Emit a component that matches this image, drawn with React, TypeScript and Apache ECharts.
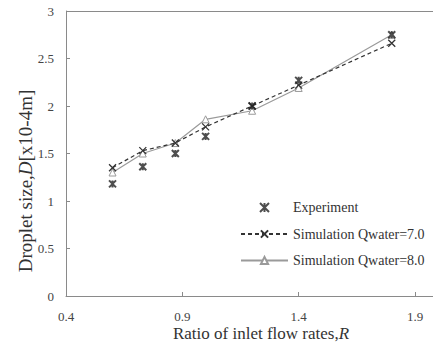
import React, { useEffect, useRef } from "react";
import * as echarts from "echarts";

const ratios = [0.6, 0.73, 0.87, 1.0, 1.2, 1.4, 1.8];
const experiment = [1.18, 1.36, 1.5, 1.68, 2.0, 2.27, 2.75];
const simQ7 = [1.35, 1.53, 1.61, 1.78, 2.0, 2.22, 2.66];
const simQ8 = [1.3, 1.5, 1.61, 1.86, 1.95, 2.19, 2.75];
const seriesNames = ["Experiment", "Simulation Qwater=7.0", "Simulation Qwater=8.0"];
const xTitle = "Ratio of inlet flow rates,";
const xTitleVar = "R";
const yTitle = "Droplet size,";
const yTitleVar = "D";
const yTitleUnit = "[x10-4m]";

const FONT = "'Liberation Serif', 'Times New Roman', serif";
const pair = (ys: number[]) => ratios.map((r, i) => [r, ys[i]]);

export default function App() {
  const ref = useRef<HTMLDivElement>(null);
  useEffect(() => {
    if (!ref.current) return;
    const chart = echarts.init(ref.current, null, { renderer: "svg" });
    chart.setOption({
      animation: false,
      backgroundColor: "#ffffff",
      grid: { left: 66, right: 18, top: 11, bottom: 53 },
      xAxis: {
        type: "value",
        min: 0.4,
        max: 1.9,
        interval: 0.5,
        splitLine: { show: false },
        axisLine: { lineStyle: { color: "#8a8a8a", width: 1 } },
        axisTick: { inside: true, length: 4, lineStyle: { color: "#8a8a8a" } },
        axisLabel: { color: "#444", fontFamily: FONT, fontSize: 13, margin: 14 },
      },
      yAxis: {
        type: "value",
        min: 0,
        max: 3,
        interval: 0.5,
        splitLine: { show: false },
        axisLine: { show: true, lineStyle: { color: "#8a8a8a", width: 1 } },
        axisTick: { show: true, inside: true, length: 4, lineStyle: { color: "#8a8a8a" } },
        axisLabel: { color: "#444", fontFamily: FONT, fontSize: 13, margin: 12 },
      },
      legend: {
        orient: "vertical",
        left: 240,
        top: 200.5,
        padding: 0,
        itemWidth: 47,
        itemHeight: 9,
        itemGap: 12.5,
        data: seriesNames,
        textStyle: { fontFamily: FONT, fontSize: 14, color: "#333" },
      },
      graphic: [
        { type: "line", shape: { x1: 66, y1: 11.5, x2: 433, y2: 11.5 }, style: { stroke: "#8a8a8a", lineWidth: 1 } },
        { type: "line", shape: { x1: 415, y1: 296.5, x2: 433, y2: 296.5 }, style: { stroke: "#8a8a8a", lineWidth: 1 } },
        {
          type: "text",
          x: 261,
          y: 333,
          style: {
            text: xTitle + "{i|" + xTitleVar + "}",
            font: "17px " + FONT,
            fill: "#333",
            align: "center",
            verticalAlign: "middle",
            rich: { i: { fontStyle: "italic", fontSize: 17, fontFamily: FONT, fill: "#333" } },
          },
        },
        {
          type: "text",
          x: 25,
          y: 181,
          rotation: Math.PI / 2,
          style: {
            text: yTitle + "{i|" + yTitleVar + "}" + yTitleUnit,
            font: "19px " + FONT,
            fill: "#333",
            align: "center",
            verticalAlign: "middle",
            rich: { i: { fontStyle: "italic", fontSize: 19, fontFamily: FONT, fill: "#333" } },
          },
        },
      ],
      series: [
        {
          name: seriesNames[0],
          type: "scatter",
          data: pair(experiment),
          symbol: "path://M0,0L10,10M10,0L0,10M5,0L5,10",
          symbolSize: 7,
          itemStyle: { color: "#222", borderColor: "#222", borderWidth: 2 },
          z: 4,
        },
        {
          name: seriesNames[1],
          type: "line",
          data: pair(simQ7),
          symbol: "path://M0,0L10,10M10,0L0,10",
          symbolSize: 7,
          showSymbol: true,
          lineStyle: { color: "#333", width: 1.2, type: [4, 3] },
          itemStyle: { color: "#333", borderColor: "#333", borderWidth: 1.3 },
          z: 3,
        },
        {
          name: seriesNames[2],
          type: "line",
          data: pair(simQ8),
          symbol: "triangle",
          symbolSize: 7,
          showSymbol: true,
          lineStyle: { color: "#9a9a9a", width: 1.2 },
          itemStyle: { color: "#ffffff", borderColor: "#9a9a9a", borderWidth: 1 },
          z: 2,
        },
      ],
    });
    return () => chart.dispose();
  }, []);
  return <div ref={ref} style={{ width: 433, height: 349, position: "absolute", left: 0, top: 0 }} />;
}
